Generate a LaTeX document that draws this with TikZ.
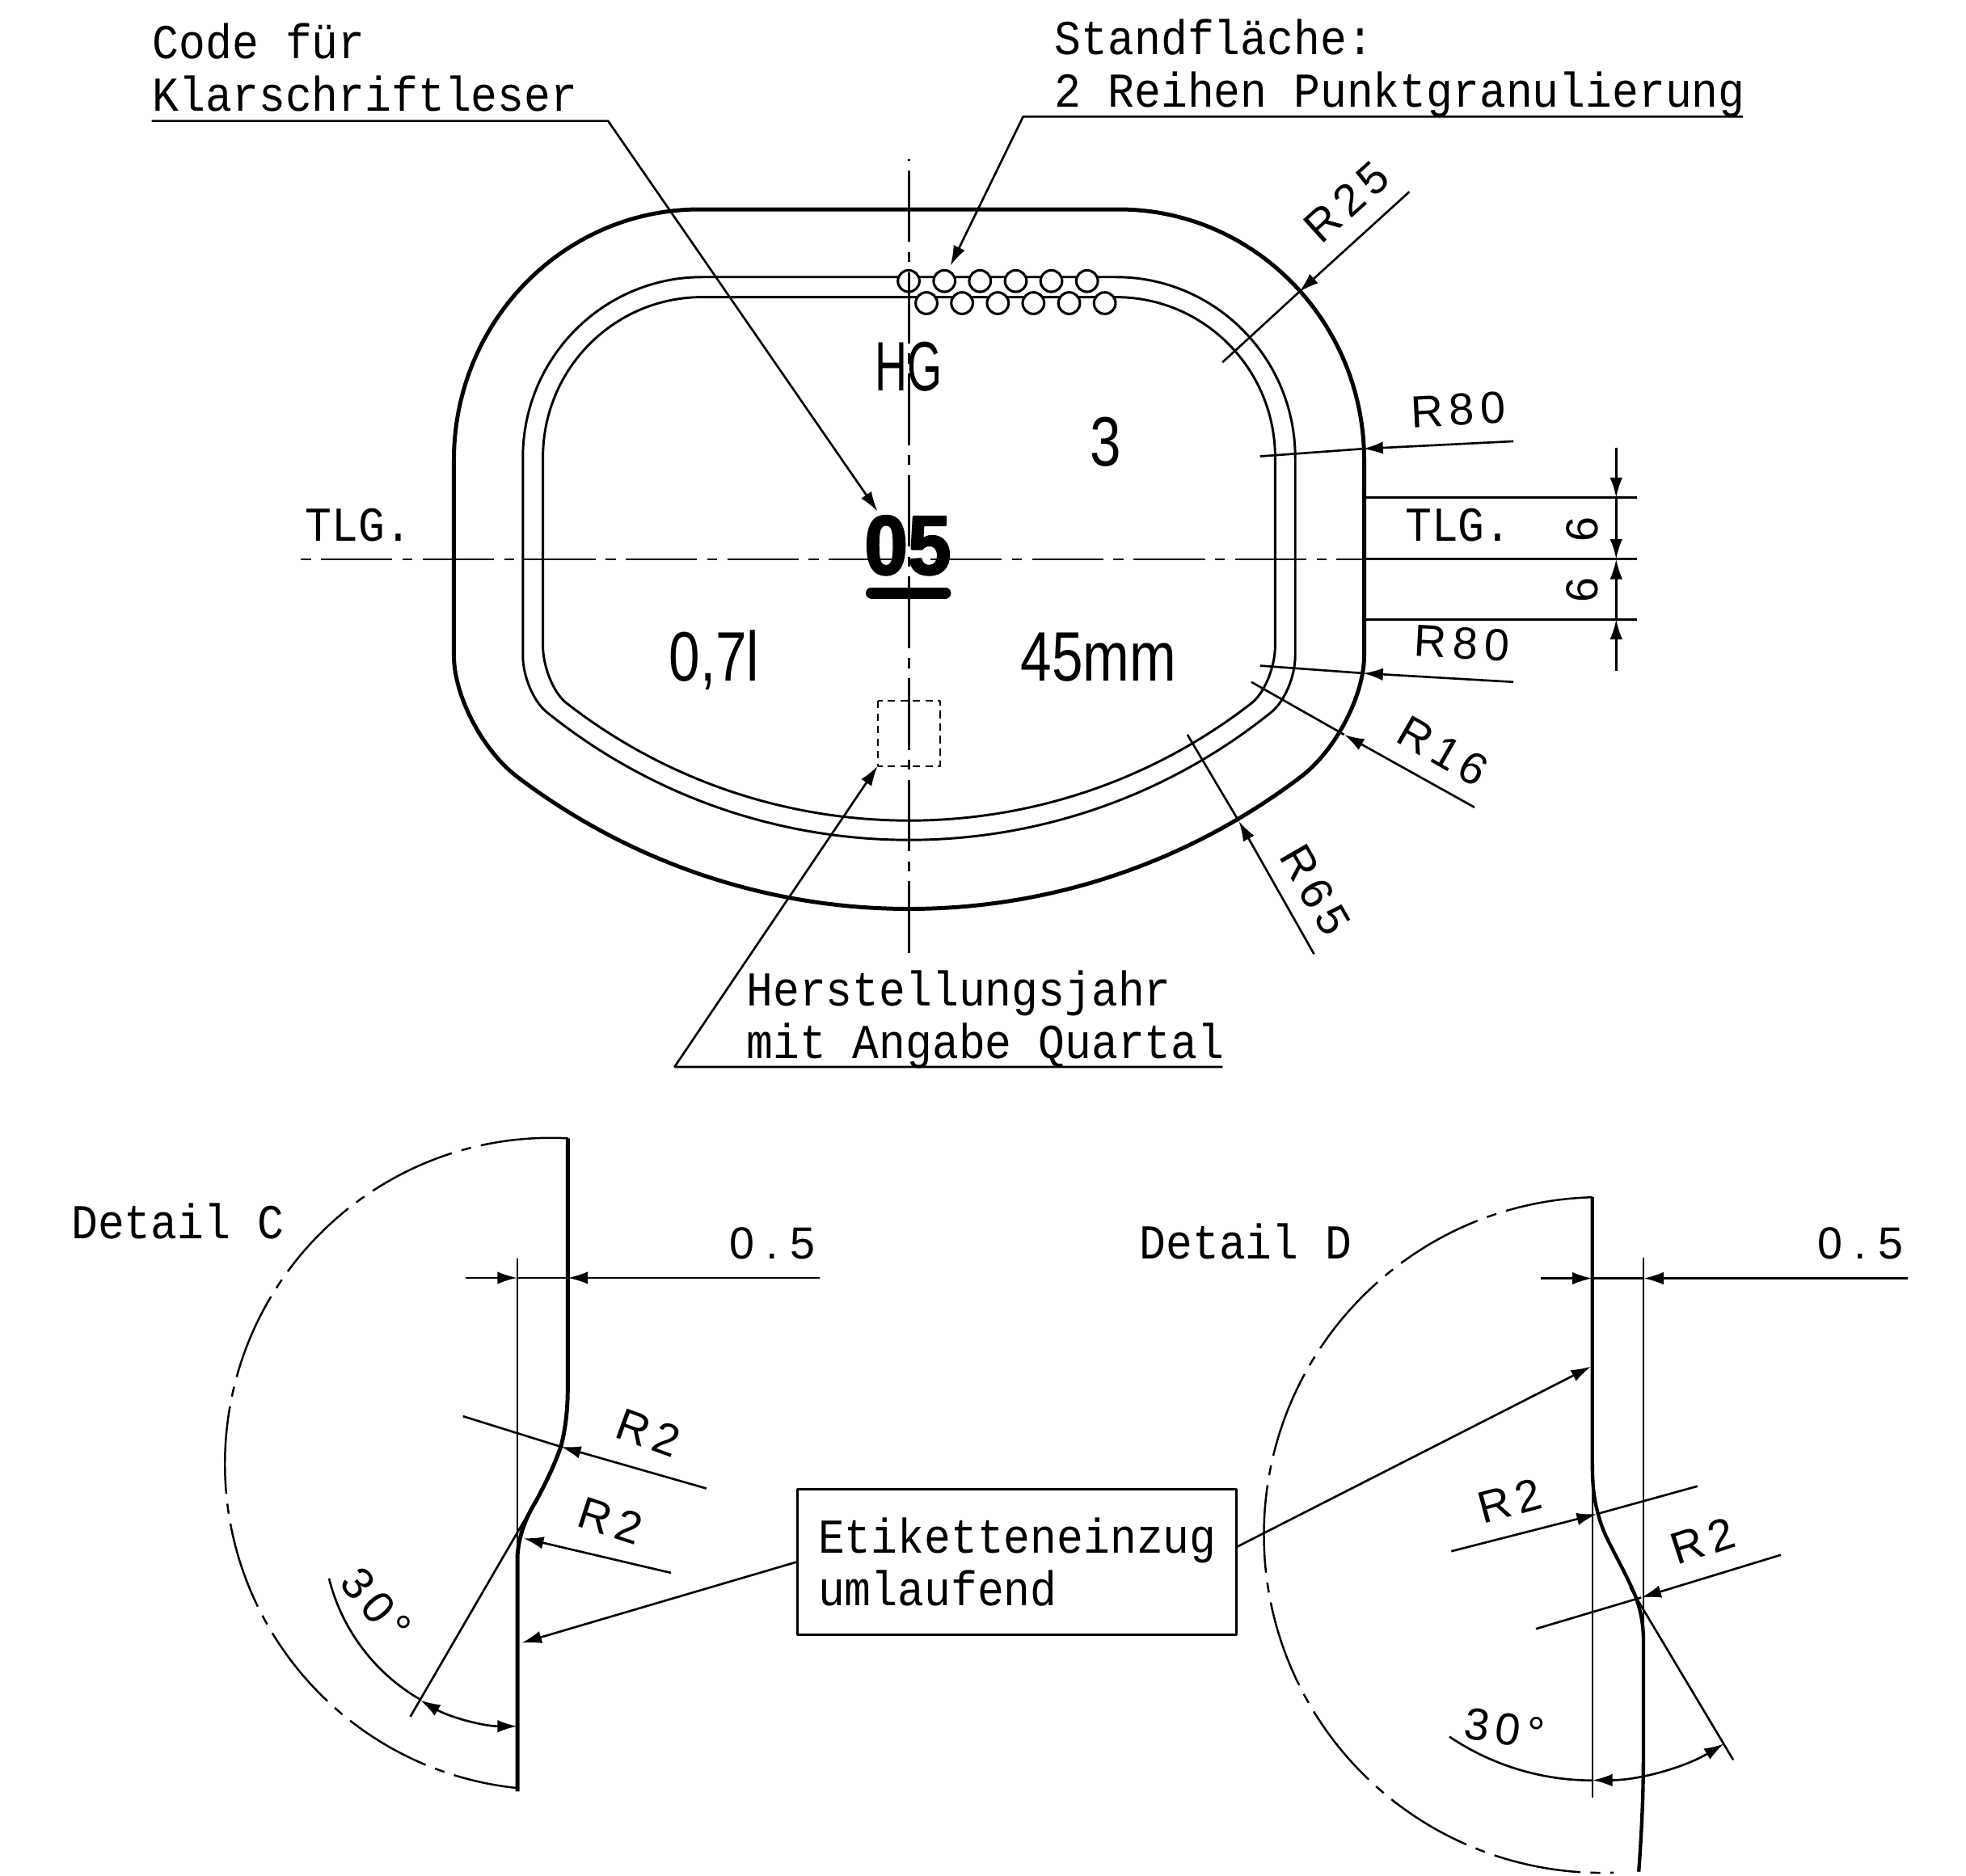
\documentclass[tikz,border=0pt]{standalone}
\usepackage{fontspec}
\usetikzlibrary{arrows.meta}
\newfontfamily\monofont[FakeStretch=0.908]{Liberation Mono}
\newfontfamily\dimfont[LetterSpace=14]{Liberation Sans}
\newfontfamily\signfont[FakeStretch=0.8]{Liberation Sans}
\newfontfamily\narrowfont[FakeStretch=0.64]{Liberation Sans}
\newfontfamily\stampfont[FakeBold=2.5,FakeStretch=0.93]{Liberation Sans Bold}
\tikzset{
  note/.style={font=\monofont\fontsize{39}{42}\selectfont,inner sep=0bp,align=left},
  dimlabel/.style={font=\dimfont\fontsize{36}{36}\selectfont,inner sep=0bp},
  sign/.style={font=\signfont\fontsize{56}{56}\selectfont,inner sep=0bp,anchor=base},
  outline/.style={line width=3.2bp},
  ring/.style={line width=1.9bp},
  axis/.style={line width=1.6bp,dash pattern=on 57bp off 8bp on 8bp off 8bp},
  detailarc/.style={line width=1.6bp,dash pattern=on 70bp off 8bp on 8bp off 8bp},
  dot/.style={line width=2bp,fill=white}
}

\begin{document}
\begin{tikzpicture}[>={Latex[length=16bp,width=10bp]},line join=bevel,x=1bp,y=-1bp]
  \pgfsetlinewidth{1.7bp}
  \useasboundingbox (0,0) rectangle (1568,1496.4);
  %%
  % Shape: outer edge
  \draw [outline] (558,167) -- (892,167) .. controls (1000.3,167) and (1088,256.5) .. (1088,367) -- (1088,523) .. controls (1088,555) and (1065,599) .. (1037,620) .. controls (852,760) and (598,760) .. (413,620) .. controls (385,599) and (362,555) .. (362,523) -- (362,367) .. controls (362,256.5) and (449.7,167) .. (558,167) -- cycle;
  % Shape: label rings
  \draw [ring] (560,221) -- (890,221) .. controls (969,221) and (1033,285.5) .. (1033,365) -- (1033,523) .. controls (1033,539.5) and (1024.5,559.6) .. (1014,568) .. controls (845.4,704) and (604.6,704) .. (436,568) .. controls (425.5,559.6) and (417,539.5) .. (417,523) -- (417,365) .. controls (417,285.5) and (481,221) .. (560,221) -- cycle;
  \draw [ring] (560,237) -- (890,237) .. controls (960,237) and (1017,294) .. (1017,365) -- (1017,515) .. controls (1017,532) and (1008.5,553) .. (998,561) .. controls (837.6,685.7) and (612.4,685.7) .. (452,561) .. controls (441.5,553) and (433,532) .. (433,515) -- (433,365) .. controls (433,294) and (490,237) .. (560,237) -- cycle;
  % Shape: granulation dots
  \draw [dot] (724.7,224.2) circle (8.6);
  \draw [dot] (753.2,224.2) circle (8.6);
  \draw [dot] (781.6,224.2) circle (8.6);
  \draw [dot] (810.1,224.2) circle (8.6);
  \draw [dot] (838.5,224.2) circle (8.6);
  \draw [dot] (867,224.2) circle (8.6);
  \draw [dot] (738.9,241.8) circle (8.6);
  \draw [dot] (767.3,241.8) circle (8.6);
  \draw [dot] (795.8,241.8) circle (8.6);
  \draw [dot] (824.2,241.8) circle (8.6);
  \draw [dot] (852.7,241.8) circle (8.6);
  \draw [dot] (881.1,241.8) circle (8.6);
  % Shape: axes
  \draw [axis,dash phase=63bp] (238,446) -- (1087,446);
  \draw [axis,dash phase=72bp] (725,127) -- (725,760);
  \draw [line width=2bp] (1087,446) -- (1305.7,446);
  \draw [line width=1.2bp,dash pattern=on 6bp off 4bp] (700,559) rectangle (750,611);
  % Node: marks on the base
  \node [sign,font=\narrowfont\fontsize{56}{56}\selectfont] (hg) at (725,312) {HG};
  \node [sign] (three) at (882,372) {3};
  \node [sign] (volume) at (569.5,543) {0,7l};
  \node [sign] (width) at (876,543) {45mm};
  \node [sign,font=\stampfont\fontsize{67}{67}\selectfont] (year) at (724,458) {05};
  \draw [line width=9bp,line cap=round] (695,473) -- (754,473);
  % Node: notes
  \node [note,anchor=north west] (code) at (121,18) {Code für\\Klarschriftleser};
  \node [note,anchor=north west] (stand) at (840.5,14.5) {Standfläche:\\2 Reihen Punktgranulierung};
  \node [note,anchor=north west] (jahr) at (594.5,773.5) {Herstellungsjahr\\mit Angabe Quartal};
  \node [note] (tlgleft) at (286,419) {TLG.};
  \node [note] (tlgright) at (1163,419) {TLG.};
  % Edge: code -> 05
  \coordinate (codestart) at (121,96.5);
  \coordinate (codebend) at (485,96.5);
  \coordinate (codetip) at (700,408);
  \draw [->] (codestart) -- (codebend) -- (codetip);
  % Edge: stand -> dots
  \coordinate (standstart) at (1390,93);
  \coordinate (standbend) at (816,93);
  \coordinate (standtip) at (758,212);
  \draw [->] (standstart) -- (standbend) -- (standtip);
  % Edge: jahr -> square
  \coordinate (jahrstart) at (975,851);
  \coordinate (jahrbend) at (538,851);
  \coordinate (jahrtip) at (700,611);
  \draw [->] (jahrstart) -- (jahrbend) -- (jahrtip);
  % Edge: radii
  \coordinate (rfoutera) at (1124,153);
  \coordinate (rftipa) at (1036,233);
  \coordinate (rfinnera) at (975,289);
  \draw [->] (rfoutera) -- (rftipa);
  \draw (rftipa) -- (rfinnera);
  \coordinate (reoutera) at (1207,352);
  \coordinate (retipa) at (1087,358);
  \coordinate (reinnera) at (1005,364);
  \draw [->] (reoutera) -- (retipa);
  \draw (retipa) -- (reinnera);
  \coordinate (reouterb) at (1207,544);
  \coordinate (retipb) at (1087,537);
  \coordinate (reinnerb) at (1005,531);
  \draw [->] (reouterb) -- (retipb);
  \draw (retipb) -- (reinnerb);
  \coordinate (rsouter) at (1176,644);
  \coordinate (rstip) at (1072,586);
  \coordinate (rsinner) at (998,544);
  \draw [->] (rsouter) -- (rstip);
  \draw (rstip) -- (rsinner);
  \coordinate (rhouter) at (1048,761);
  \coordinate (rhtip) at (988,655);
  \coordinate (rhinner) at (947,586);
  \draw [->] (rhouter) -- (rhtip);
  \draw (rhtip) -- (rhinner);
  \node [dimlabel,rotate=42] (rtwentyfive) at (1074,161) {R25};
  \node [dimlabel,rotate=3] (reightya) at (1163,327) {R80};
  \node [dimlabel,rotate=-3] (reightyb) at (1166,513) {R80};
  \node [dimlabel,rotate=-30] (rsixteen) at (1151,599) {R16};
  \node [dimlabel,rotate=-60] (rsixtyfive) at (1049,710) {R65};
  % Edge: width 6 + 6
  \coordinate (sixtop) at (1289,357);
  \coordinate (sixa) at (1289,397);
  \coordinate (sixb) at (1289,446);
  \coordinate (sixc) at (1289,494);
  \coordinate (sixend) at (1289,535);
  \draw (1087,397) -- (1305.7,397);
  \draw (1087,494) -- (1305.7,494);
  \draw [->] (sixtop) -- (sixa);
  \draw [->] (sixa) -- (sixb);
  \draw [->] (sixc) -- (sixb);
  \draw [->] (sixend) -- (sixc);
  \node [dimlabel,rotate=90] (sixupper) at (1262,422) {6};
  \node [dimlabel,rotate=90] (sixlower) at (1262,470.7) {6};
  %
  % Detail C
  \begin{scope}
    \node [note,anchor=west] (detailc) at (56,974) {Detail C};
    \draw [detailarc] (453,908) arc [start angle=273,end angle=96,radius=260];
    \draw [outline] (452.8,908) -- (452.8,1107) .. controls (452.8,1125) and (451,1140) .. (447.3,1154) .. controls (441,1172) and (433,1187) .. (427.5,1197.4) .. controls (421,1208) and (414,1222) .. (412.7,1240.8) -- (412.7,1429);
    \draw (412.7,1003.7) -- (412.7,1245);
    \draw (421,1208) .. controls (417,1218) and (414,1228) .. (412.7,1240.8);
    \coordinate (cline) at (327.2,1369.4);
    \coordinate (ccross) at (421,1208);
    \draw (cline) -- (ccross);
    % 0.5
    \coordinate (chalfa) at (371.6,1019.3);
    \coordinate (chalfb) at (412.7,1019.3);
    \coordinate (chalfc) at (452.8,1019.3);
    \coordinate (chalfd) at (653.6,1019.3);
    \draw [->] (chalfa) -- (chalfb);
    \draw (chalfb) -- (chalfc);
    \draw [->] (chalfd) -- (chalfc);
    \node [dimlabel,font=\dimfont\addfontfeature{LetterSpace=26}\fontsize{36}{36}\selectfont] (chalf) at (616,992) {0.5};
    % radii
    \coordinate (crad) at (563.4,1187.3);
    \coordinate (cradtip) at (447.3,1154);
    \coordinate (cradend) at (369.3,1129.7);
    \draw [->] (crad) -- (cradtip);
    \draw (cradtip) -- (cradend);
    \coordinate (cradb) at (535.1,1254.6);
    \coordinate (cradbtip) at (417.6,1227);
    \draw [->] (cradb) -- (cradbtip);
    \node [dimlabel,rotate=-20] (cra) at (517,1143) {R2};
    \node [dimlabel,rotate=-18] (crb) at (487,1213) {R2};
    % 30 degrees
    \draw (262.4,1259) arc [start angle=166,end angle=120,radius=155];
    \draw [<->] (335.2,1356.2) arc [start angle=120,end angle=90,radius=155];
    \node [dimlabel,rotate=-50] (cangle) at (300,1280) {30°};
  \end{scope}
  % Node: label recess
  \node [note,draw,line width=1.7bp,text width=317bp,minimum width=350bp,minimum height=116bp] (etikett) at (811,1246) {Etiketteneinzug\\umlaufend};
  \coordinate (etikettc) at (416,1310.5);
  \coordinate (etikettd) at (1269,1090);
  \draw [->] (etikett.west) -- (etikettc);
  \draw [->] (etikett.4) -- (etikettd);
  % Detail D
  \begin{scope}
    \node [note,anchor=west] (detaild) at (908,990) {Detail D};
    \draw [detailarc] (1270,955) arc [start angle=268.4,end angle=88,radius=269.5];
    \draw [line width=2.8bp] (1270,955) -- (1270,1167.6) .. controls (1270,1182) and (1271,1194) .. (1273.5,1203.4) .. controls (1276,1214) and (1279,1222) .. (1282.4,1228.5) .. controls (1289,1242) and (1297,1256) .. (1303.6,1271.4) .. controls (1308,1282) and (1310.7,1295) .. (1310.7,1307.2) -- (1310.7,1400) .. controls (1310.7,1435) and (1309,1465) .. (1307,1493);
    \draw (1270,1167) -- (1270,1434);
    \draw (1310.7,1003) -- (1310.7,1310);
    \coordinate (dline) at (1382.4,1403.9);
    \coordinate (dcross) at (1300,1266);
    \draw (dcross) -- (dline);
    % 0.5
    \coordinate (dhalfa) at (1228.6,1019.7);
    \coordinate (dhalfb) at (1270,1019.7);
    \coordinate (dhalfc) at (1310.7,1019.7);
    \coordinate (dhalfd) at (1521.8,1019.7);
    \draw [->] (dhalfa) -- (dhalfb);
    \draw (dhalfb) -- (dhalfc);
    \draw [->] (dhalfd) -- (dhalfc);
    \node [dimlabel,font=\dimfont\addfontfeature{LetterSpace=26}\fontsize{36}{36}\selectfont] (dhalf) at (1484,992) {0.5};
    % radii
    \coordinate (drad) at (1157.5,1237.4);
    \coordinate (dradtip) at (1273.5,1207.7);
    \coordinate (dradend) at (1353.8,1185.5);
    \draw [->] (drad) -- (dradtip);
    \draw (dradtip) -- (dradend);
    \coordinate (dradb) at (1420.3,1240.3);
    \coordinate (dradbtip) at (1308.9,1274.3);
    \coordinate (dradbend) at (1225,1299.3);
    \draw [->] (dradb) -- (dradbtip);
    \draw (dradbtip) -- (dradbend);
    \node [dimlabel,rotate=15] (dra) at (1204,1197) {R2};
    \node [dimlabel,rotate=18] (drb) at (1358,1229) {R2};
    % 30 degrees
    \draw (1156,1385.3) arc [start angle=124,end angle=90,radius=204];
    \draw [<->] (1270,1420) arc [start angle=90,end angle=59,radius=204];
    \node [dimlabel,rotate=-8] (dangle) at (1200,1379) {30°};
  \end{scope}
  %
\end{tikzpicture}
\end{document}
